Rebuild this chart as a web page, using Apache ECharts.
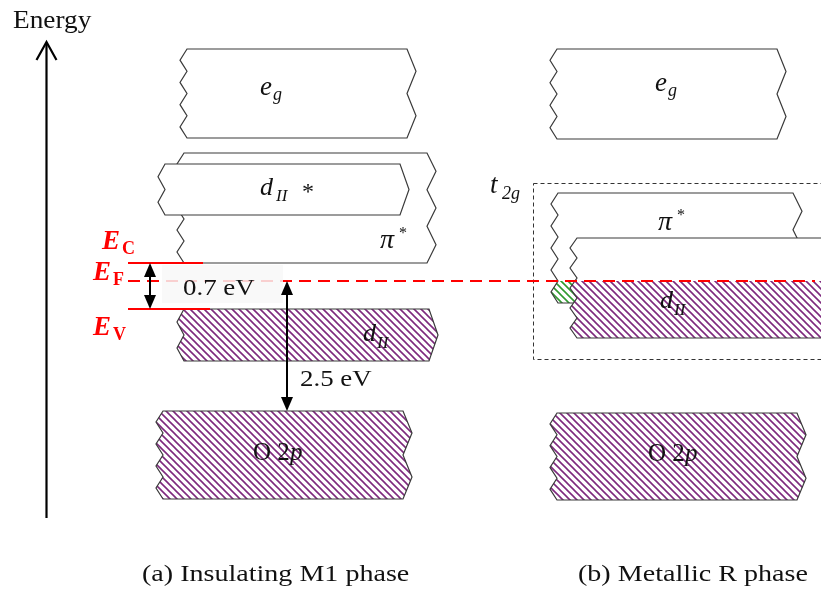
<!DOCTYPE html>
<html>
<head>
<meta charset="utf-8">
<title>VO2 band diagram</title>
<script src="https://cdn.jsdelivr.net/npm/echarts@6.0.0/dist/echarts.min.js"></script>
<style>
  html, body { margin: 0; padding: 0; background: #ffffff; }
  #chart { width: 821px; height: 594px; }
</style>
</head>
<body>
<div id="chart"></div>
<script>
// ---- Diagram data: x is a horizontal diagram unit, energy grows upward ----

// Bands of the insulating (a) and metallic (b) phases
const bandIds     = ['eg_a', 'pi_a', 'dIIs_a', 'dII_a', 'O2p_a', 'eg_b', 'pi_b', 'dII_b', 'O2p_b'];
const bandLeft    = [187, 184, 165, 184, 163, 557, 558, 577, 557];
const bandRight   = [407, 427, 400, 429, 403, 777, 793, 834, 797];
const bandTop     = [545, 441, 430, 285, 183, 545, 401, 356, 181];
const bandBottom  = [456, 331, 379, 233,  95, 455, 291, 256,  94];
const bandFilling = ['empty', 'empty', 'empty', 'full', 'full', 'empty', 'belowFermiGreen', 'belowFermi', 'full'];
const bandLabelKind     = ['eg', 'pi', 'dIIs', 'dII', 'O2p', 'eg', 'pi', 'dII', 'O2p'];
const bandLabelX        = [260, 380, 260, 363, 253, 655, 658, 660, 648];
const bandLabelBaseline = [497, 344, 397, 251, 132, 501, 362, 284, 131];

// Characteristic levels (conduction edge, Fermi level, valence edge)
const levelSubscripts    = ['C', 'F', 'V'];
const levelEnergy        = [331, 313, 285];
const levelLineFrom      = [128, 128, 128];
const levelLineTo        = [203, 815, 210];
const levelLabelX        = [102, 93, 93];
const levelLabelBaseline = [343, 312, 257];

// Energy gaps marked with double arrows
const gapLabels        = ['0.7 eV', '2.5 eV'];
const gapX             = [150, 287];
const gapUpper         = [331, 313];
const gapLower         = [285, 183];
const gapLabelX        = [183, 300];
const gapLabelBaseline = [297, 206];
const gapLabelBox      = [[162, 329, 283, 291]];   // x0, top, x1, bottom

// t2g manifold of the metallic phase
const t2gBox      = [[533, 411, 834, 235]];        // x0, top, x1, bottom
const t2gLabelX   = 490;
const t2gBaseline = 399;

// Energy scale arrow
const energyAxisX    = 46.5;
const energyAxisFrom = 76;
const energyAxisTo   = 552;
const energyLabelX   = 13;
const energyBaseline = 564;

// Panel captions
const captions        = ['(a) Insulating M1 phase', '(b) Metallic R phase'];
const captionX        = [142, 578];
const captionBaseline = [11, 11];

// ---- Drawing helpers ----
const SERIF = "'Liberation Serif', 'Times New Roman', serif";
const EDGE = '#3a3a3a';

function makeHatch(color) {
  const s = 7;
  const c = document.createElement('canvas');
  c.width = s; c.height = s;
  const g = c.getContext('2d');
  g.strokeStyle = color;
  g.lineWidth = 1.6;
  g.beginPath();
  g.moveTo(-1, -1); g.lineTo(s + 1, s + 1);
  g.moveTo(-1, s - 1); g.lineTo(1, s + 1);
  g.moveTo(s - 1, -1); g.lineTo(s + 1, 1);
  g.stroke();
  return { image: c, repeat: 'repeat' };
}
const hatchPurple = makeHatch('#7e2a7e');
const hatchGreen = makeHatch('#2f9a2f');

// Band outline with torn (zigzag) left and right edges
function jaggedOutline(x0, x1, yT, yB) {
  const h = yB - yT;
  const pts = [[x0, yT], [x1, yT]];
  const nR = Math.max(1, Math.round(h / 40));
  for (let k = 1; k <= 2 * nR; k++) {
    pts.push([k % 2 ? x1 + 9 : x1, yT + k * h / (2 * nR)]);
  }
  pts.push([x0, yB]);
  const nL = Math.max(1, Math.round(h / 22));
  for (let k = 1; k < 2 * nL; k++) {
    pts.push([k % 2 ? x0 - 7 : x0, yB - k * h / (2 * nL)]);
  }
  return pts;
}

// Part of a polygon lying below a horizontal pixel line
function clipBelow(points, yLine) {
  const out = [];
  for (let k = 0; k < points.length; k++) {
    const a = points[k], b = points[(k + 1) % points.length];
    const aIn = a[1] >= yLine, bIn = b[1] >= yLine;
    if (aIn) out.push(a);
    if (aIn !== bIn) {
      const t = (yLine - a[1]) / (b[1] - a[1]);
      out.push([a[0] + t * (b[0] - a[0]), yLine]);
    }
  }
  return out;
}

// Text pieces anchored on a baseline (dx, dy in pixels)
function pieceElements(x, baseY, pieces, fill) {
  return pieces.map(p => ({
    type: 'text',
    x: x + (p.dx || 0),
    y: baseY + (p.dy || 0) - 0.34 * p.size,
    scaleX: p.sx || 1,
    style: {
      text: p.t,
      fontFamily: SERIF,
      fontSize: p.size,
      fontStyle: p.italic ? 'italic' : 'normal',
      fontWeight: p.bold ? 'bold' : 'normal',
      fill: fill,
      align: 'left',
      verticalAlign: 'middle'
    }
  }));
}

const labelTemplates = {
  eg:   [{ t: 'e', size: 27, italic: true }, { t: 'g', size: 18, italic: true, dx: 13, dy: 4 }],
  pi:   [{ t: 'π', size: 28, italic: true }, { t: '*', size: 16, dx: 19, dy: -11 }],
  dIIs: [{ t: 'd', size: 26, italic: true }, { t: 'II', size: 17, italic: true, dx: 16, dy: 5 },
         { t: '*', size: 24, dx: 42, dy: 4 }],
  dII:  [{ t: 'd', size: 26, italic: true }, { t: 'II', size: 17, italic: true, dx: 14, dy: 6 }],
  O2p:  [{ t: 'O 2', size: 25 }, { t: 'p', size: 25, italic: true, dx: 37 }],
  t2g:  [{ t: 't', size: 27, italic: true }, { t: '2g', size: 18, italic: true, dx: 12, dy: 5 }]
};

function arrowHead(x, tipY, dir) {
  // dir = -1 points up, +1 points down
  return {
    type: 'polygon',
    shape: { points: [[x, tipY], [x - 6, tipY - dir * 14], [x + 6, tipY - dir * 14]] },
    style: { fill: '#000' }
  };
}

const chart = echarts.init(document.getElementById('chart'));

const option = {
  animation: false,
  backgroundColor: '#ffffff',
  grid: { left: 0, right: 0, top: 0, bottom: 0 },
  xAxis: { type: 'value', min: 0, max: 821, show: false },
  yAxis: { type: 'value', min: 0, max: 594, show: false },
  series: [
    {
      // bands
      type: 'custom', silent: true, clip: true, z: 2,
      data: bandIds.map((id, i) => [bandLeft[i], bandTop[i], bandRight[i], bandBottom[i]]),
      renderItem(params, api) {
        const i = params.dataIndex;
        const tl = api.coord([api.value(0), api.value(1)]);
        const br = api.coord([api.value(2), api.value(3)]);
        const poly = jaggedOutline(tl[0], br[0], tl[1], br[1]);
        const kids = [{ type: 'polygon', shape: { points: poly }, style: { fill: '#fff' } }];
        const kind = bandFilling[i];
        if (kind === 'full') {
          kids.push({ type: 'polygon', shape: { points: poly }, style: { fill: hatchPurple } });
        } else if (kind.indexOf('belowFermi') === 0) {
          const yF = api.coord([0, levelEnergy[1]])[1];
          const part = clipBelow(poly, yF);
          if (part.length > 2) {
            kids.push({ type: 'polygon', shape: { points: part },
              style: { fill: kind === 'belowFermiGreen' ? hatchGreen : hatchPurple } });
          }
        }
        kids.push({ type: 'polygon', shape: { points: poly },
          style: { fill: 'none', stroke: EDGE, lineWidth: 1.2 } });
        return { type: 'group', children: kids };
      }
    },
    {
      // t2g dashed frame
      type: 'custom', silent: true, z: 3,
      data: t2gBox,
      renderItem(params, api) {
        const a = api.coord([api.value(0), api.value(1)]);
        const b = api.coord([api.value(2), api.value(3)]);
        return {
          type: 'rect',
          shape: { x: a[0] + 0.5, y: a[1] + 0.5, width: b[0] - a[0], height: b[1] - a[1] },
          style: { fill: 'none', stroke: '#333', lineWidth: 1, lineDash: [4, 3] }
        };
      }
    },
    {
      // level lines (E_C, E_F dashed, E_V)
      type: 'custom', silent: true, z: 4,
      data: levelEnergy.map((e, i) => [levelLineFrom[i], e, levelLineTo[i]]),
      renderItem(params, api) {
        const i = params.dataIndex;
        const a = api.coord([api.value(0), api.value(1)]);
        const b = api.coord([api.value(2), api.value(1)]);
        return {
          type: 'line',
          shape: { x1: a[0], y1: a[1], x2: b[0], y2: b[1] },
          style: { stroke: '#ff0000', lineWidth: 2, lineDash: levelSubscripts[i] === 'F' ? [12, 7] : null }
        };
      }
    },
    {
      // translucent box behind the gap label
      type: 'custom', silent: true, z: 5,
      data: gapLabelBox,
      renderItem(params, api) {
        const a = api.coord([api.value(0), api.value(1)]);
        const b = api.coord([api.value(2), api.value(3)]);
        return {
          type: 'rect',
          shape: { x: a[0], y: a[1], width: b[0] - a[0], height: b[1] - a[1] },
          style: { fill: 'rgba(248,248,248,0.84)' }
        };
      }
    },
    {
      // gap double arrows
      type: 'custom', silent: true, z: 6,
      data: gapX.map((x, i) => [x, gapUpper[i], gapLower[i]]),
      renderItem(params, api) {
        const top = api.coord([api.value(0), api.value(1)]);
        const bot = api.coord([api.value(0), api.value(2)]);
        return {
          type: 'group',
          children: [
            { type: 'line', shape: { x1: top[0], y1: top[1] + 8, x2: bot[0], y2: bot[1] - 8 },
              style: { stroke: '#000', lineWidth: 2 } },
            arrowHead(top[0], top[1], -1),
            arrowHead(bot[0], bot[1], 1)
          ]
        };
      }
    },
    {
      // energy axis arrow
      type: 'custom', silent: true, z: 6,
      data: [[energyAxisX, energyAxisFrom, energyAxisTo]],
      renderItem(params, api) {
        const a = api.coord([api.value(0), api.value(1)]);
        const b = api.coord([api.value(0), api.value(2)]);
        return {
          type: 'group',
          children: [
            { type: 'line', shape: { x1: a[0], y1: a[1], x2: b[0], y2: b[1] + 1 },
              style: { stroke: '#000', lineWidth: 2.2 } },
            { type: 'polyline', shape: { points: [[b[0] - 10, b[1] + 18], [b[0], b[1]], [b[0] + 10, b[1] + 18]] },
              style: { stroke: '#000', lineWidth: 2.2, fill: 'none' } }
          ]
        };
      }
    },
    {
      // band labels
      type: 'custom', silent: true, z: 7,
      data: bandIds.map((id, i) => [bandLabelX[i], bandLabelBaseline[i]]),
      renderItem(params, api) {
        const p = api.coord([api.value(0), api.value(1)]);
        return { type: 'group',
          children: pieceElements(p[0], p[1], labelTemplates[bandLabelKind[params.dataIndex]], '#111') };
      }
    },
    {
      // t2g label
      type: 'custom', silent: true, z: 7,
      data: [[t2gLabelX, t2gBaseline]],
      renderItem(params, api) {
        const p = api.coord([api.value(0), api.value(1)]);
        return { type: 'group', children: pieceElements(p[0], p[1], labelTemplates.t2g, '#111') };
      }
    },
    {
      // E_C, E_F, E_V labels
      type: 'custom', silent: true, z: 7,
      data: levelLabelX.map((x, i) => [x, levelLabelBaseline[i]]),
      renderItem(params, api) {
        const p = api.coord([api.value(0), api.value(1)]);
        const sub = levelSubscripts[params.dataIndex];
        return { type: 'group', children: pieceElements(p[0], p[1], [
          { t: 'E', size: 27, italic: true, bold: true },
          { t: sub, size: 18, bold: true, dx: 20, dy: 4 }
        ], '#ff0000') };
      }
    },
    {
      // gap labels
      type: 'custom', silent: true, z: 7,
      data: gapLabelX.map((x, i) => [x, gapLabelBaseline[i]]),
      renderItem(params, api) {
        const p = api.coord([api.value(0), api.value(1)]);
        return { type: 'group', children: pieceElements(p[0], p[1], [
          { t: gapLabels[params.dataIndex], size: 24, sx: 1.12 }
        ], '#111') };
      }
    },
    {
      // energy axis title
      type: 'custom', silent: true, z: 7,
      data: [[energyLabelX, energyBaseline]],
      renderItem(params, api) {
        const p = api.coord([api.value(0), api.value(1)]);
        return { type: 'group', children: pieceElements(p[0], p[1], [
          { t: 'Energy', size: 26, sx: 1.05 }
        ], '#111') };
      }
    },
    {
      // panel captions
      type: 'custom', silent: true, z: 7,
      data: captionX.map((x, i) => [x, captionBaseline[i]]),
      renderItem(params, api) {
        const p = api.coord([api.value(0), api.value(1)]);
        return { type: 'group', children: pieceElements(p[0], p[1], [
          { t: captions[params.dataIndex], size: 23, sx: 1.22 }
        ], '#111') };
      }
    }
  ]
};

chart.setOption(option);
</script>
</body>
</html>
